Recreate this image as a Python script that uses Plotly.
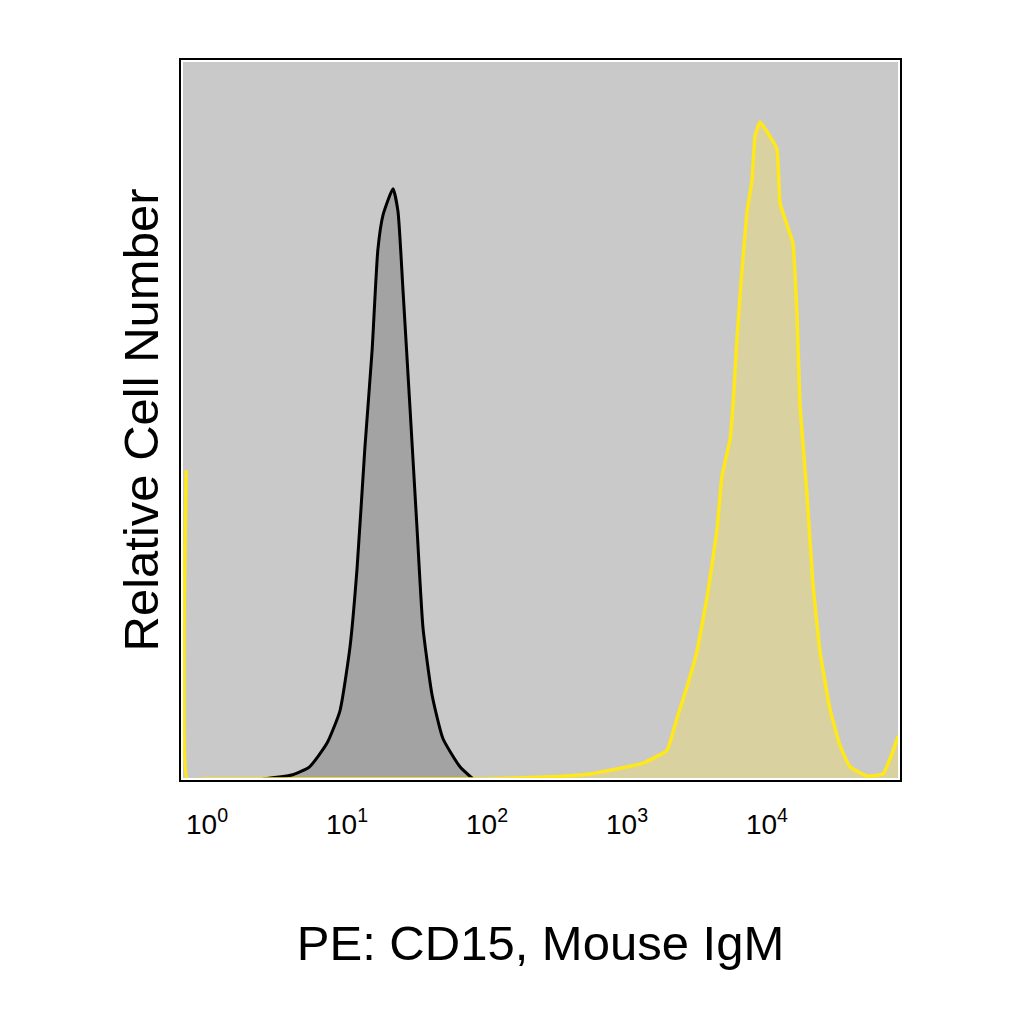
import plotly.graph_objects as go

# control / isotype histogram (grey, black outline)
ctrl_x = [2.5, 4.1, 5.4, 7.2, 8.9, 10.5, 11.8, 13.4, 15.1, 16.6, 18.1, 21.3,
          23.1, 25.1, 28.2, 31.6, 34.9, 40.5, 48.5, 64.1, 79.4]
ctrl_y = [0, 0.6, 1.7, 5.0, 9.5, 18.4, 29.4, 46.0, 59.7, 73.7, 78.6, 82.2,
          79.1, 68.1, 51.5, 35.0, 21.0, 11.7, 5.6, 1.7, 0]

# CD15 stained histogram (yellow)
cd15_x = [0.71, 0.72, 1.0, 10, 100, 282, 544, 1300, 1930, 2280, 2680, 3160,
          3730, 4390, 4770, 5440, 5720, 6110, 6630, 7200, 7810, 8210, 8910,
          10500, 11800, 12400, 13900, 15300, 16400, 17200, 19300, 21300,
          23900, 28200, 33200, 39100, 51800, 67400, 78100, 82000, 87000]
cd15_y = [43, 0, 0, 0, 0, 0.3, 0.7, 2.2, 4.0, 8.5, 12.8, 17.8,
          25.3, 34.6, 42.2, 47.2, 52.1, 61.5, 70.9, 79.0, 83.3, 89.5, 91.5,
          89.5, 87.7, 80.2, 77.2, 74.7, 64.6, 52.1, 39.7, 27.2,
          17.8, 9.7, 4.7, 1.7, 0.4, 0.7, 3.5, 4.7, 6.0]

tick_vals = [1, 10, 100, 1000, 10000]
tick_text = ["10<sup>0</sup>", "10<sup>1</sup>", "10<sup>2</sup>",
             "10<sup>3</sup>", "10<sup>4</sup>"]

fig = go.Figure()
fig.add_trace(go.Scatter(x=ctrl_x, y=ctrl_y, mode="lines", fill="tozeroy",
                         fillcolor="#a3a3a3",
                         line=dict(color="black", width=3, shape="spline", smoothing=0.5)))
fig.add_trace(go.Scatter(x=cd15_x, y=cd15_y, mode="lines", fill="tozeroy",
                         fillcolor="#d9d2a0",
                         line=dict(color="#ffe81a", width=3.5, shape="spline", smoothing=0.3)))

fig.update_xaxes(type="log", range=[-0.179, 4.943],
                 tickvals=tick_vals, ticktext=tick_text,
                 tickfont=dict(family="Liberation Sans Narrow, Arial Narrow, Liberation Sans",
                               size=28, color="black"),
                 ticks="", ticklabelstandoff=18,
                 showgrid=False, zeroline=False,
                 showline=True, linecolor="black", linewidth=3, mirror=True,
                 title=dict(text="PE: CD15, Mouse IgM", standoff=88,
                            font=dict(family="Liberation Sans, Arial", size=49, color="black")))
fig.update_yaxes(range=[0, 100], showticklabels=False, ticks="",
                 showgrid=False, zeroline=False,
                 showline=True, linecolor="black", linewidth=3, mirror=True,
                 title=dict(text="Relative Cell Number", standoff=5,
                            font=dict(family="Liberation Sans, Arial", size=49, color="black")))

fig.add_shape(type="rect", xref="paper", yref="paper", x0=0, y0=0, x1=1, y1=1,
              line=dict(color="white", width=2), layer="above")

fig.update_layout(width=1024, height=1024, showlegend=False,
                  margin=dict(l=174, r=133, t=53, b=253),
                  paper_bgcolor="white", plot_bgcolor="#c9c9c9")

fig.write_html("out.html")
